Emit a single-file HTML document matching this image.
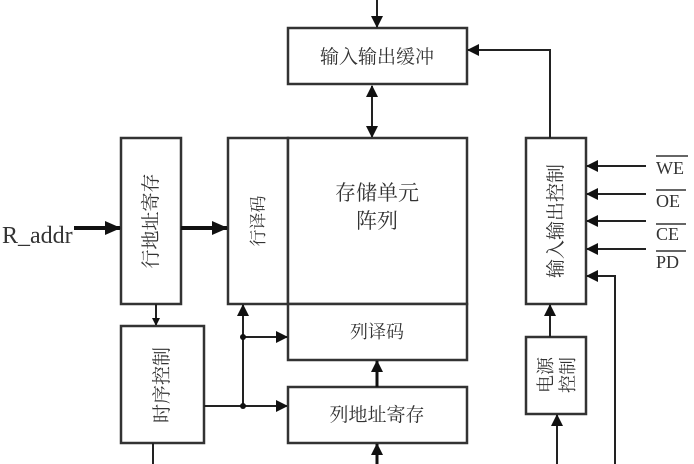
<!DOCTYPE html>
<html><head><style>
body{margin:0;background:#fff;}
svg{display:block;font-family:"Liberation Serif","Noto Serif CJK SC",serif;}
.b{fill:#fff;stroke:#333;stroke-width:2.5}
.l{stroke:#222;stroke-width:2;fill:none}
.t{font-family:"Liberation Serif","Noto Serif CJK SC",serif;fill:#333}
</style></head><body>
<svg width="694" height="464" viewBox="0 0 694 464">
<defs>
<marker id="a" markerWidth="8" markerHeight="8" refX="7" refY="4" orient="auto" markerUnits="userSpaceOnUse"><path d="M0,0 L8,4 L0,8Z" fill="#111"/></marker>
<marker id="a2" markerWidth="12" markerHeight="12" refX="11" refY="6" orient="auto-start-reverse" markerUnits="userSpaceOnUse"><path d="M0,0 L12,6 L0,12Z" fill="#111"/></marker>
<marker id="a3" markerWidth="16" markerHeight="14" refX="15" refY="7" orient="auto" markerUnits="userSpaceOnUse"><path d="M0,0 L16,7 L0,14Z" fill="#111"/></marker>
</defs>
<rect class="b" x="288" y="28" width="179" height="56"/>
<text class="t" x="377" y="63" font-size="19" text-anchor="middle">输入输出缓冲</text>
<line class="l" x1="377" y1="0" x2="377" y2="27" marker-end="url(#a2)"/>
<line class="l" x1="372" y1="86" x2="372" y2="137" marker-start="url(#a2)" marker-end="url(#a2)"/>
<rect class="b" x="228" y="138" width="60" height="166"/>
<rect class="b" x="288" y="138" width="179" height="166"/>
<rect class="b" x="288" y="304" width="179" height="56"/>
<text class="t" x="377" y="200" font-size="21" text-anchor="middle">存储单元</text>
<text class="t" x="377" y="228" font-size="21" text-anchor="middle">阵列</text>
<text class="t" x="377" y="338" font-size="18" text-anchor="middle">列译码</text>
<text class="t" font-size="17" text-anchor="middle" transform="translate(258,221) rotate(-90)" dy="6">行译码</text>
<rect class="b" x="121" y="138" width="60" height="166"/>
<text class="t" font-size="19" text-anchor="middle" transform="translate(151,221) rotate(-90)" dy="6">行地址寄存</text>
<text class="t" x="2" y="243" font-size="24">R_addr</text>
<line x1="74" y1="228" x2="120" y2="228" stroke="#111" stroke-width="4" marker-end="url(#a3)"/>
<line x1="181" y1="228" x2="227" y2="228" stroke="#111" stroke-width="4" marker-end="url(#a3)"/>
<line class="l" x1="156" y1="304" x2="156" y2="325" marker-end="url(#a)"/>
<rect class="b" x="121" y="326" width="83" height="117"/>
<text class="t" font-size="19" text-anchor="middle" transform="translate(162,385) rotate(-90)" dy="6">时序控制</text>
<line class="l" x1="153" y1="443" x2="153" y2="464"/>
<line class="l" x1="204" y1="406" x2="287" y2="406" marker-end="url(#a2)"/>
<line class="l" x1="243" y1="406" x2="243" y2="305" marker-end="url(#a2)"/>
<line class="l" x1="243" y1="337" x2="287" y2="337" marker-end="url(#a2)"/>
<circle cx="243" cy="406" r="3" fill="#111"/><circle cx="243" cy="337" r="3" fill="#111"/>
<rect class="b" x="288" y="387" width="179" height="56"/>
<text class="t" x="377" y="421" font-size="19" text-anchor="middle">列地址寄存</text>
<line x1="377" y1="387" x2="377" y2="361" stroke="#111" stroke-width="3" marker-end="url(#a2)"/>
<line x1="377" y1="464" x2="377" y2="444" stroke="#111" stroke-width="3" marker-end="url(#a2)"/>
<rect class="b" x="526" y="138" width="60" height="166"/>
<text class="t" font-size="19" text-anchor="middle" transform="translate(556,221) rotate(-90)" dy="6">输入输出控制</text>
<polyline class="l" points="550,138 550,50 468,50" marker-end="url(#a2)"/>
<line class="l" x1="646" y1="166" x2="587" y2="166" marker-end="url(#a2)"/>
<line class="l" x1="646" y1="194" x2="587" y2="194" marker-end="url(#a2)"/>
<line class="l" x1="646" y1="221" x2="587" y2="221" marker-end="url(#a2)"/>
<line class="l" x1="646" y1="249" x2="587" y2="249" marker-end="url(#a2)"/>
<polyline class="l" points="615,464 615,276 587,276" marker-end="url(#a2)"/>
<g class="t" font-size="18">
<text x="656" y="174">WE</text><line x1="656" y1="156" x2="688" y2="156" stroke="#333" stroke-width="1.5"/>
<text x="656" y="207">OE</text><line x1="656" y1="190" x2="686" y2="190" stroke="#333" stroke-width="1.5"/>
<text x="656" y="240">CE</text><line x1="656" y1="224" x2="686" y2="224" stroke="#333" stroke-width="1.5"/>
<text x="656" y="268">PD</text><line x1="656" y1="251" x2="686" y2="251" stroke="#333" stroke-width="1.5"/>
</g>
<rect class="b" x="526" y="337" width="60" height="77"/>
<text class="t" font-size="18" text-anchor="middle" transform="translate(546,375) rotate(-90)" dy="6">电源</text>
<text class="t" font-size="18" text-anchor="middle" transform="translate(568,375) rotate(-90)" dy="6">控制</text>
<line class="l" x1="550" y1="337" x2="550" y2="305" marker-end="url(#a2)"/>
<line class="l" x1="557" y1="464" x2="557" y2="415" marker-end="url(#a2)"/>
</svg>
</body></html>
